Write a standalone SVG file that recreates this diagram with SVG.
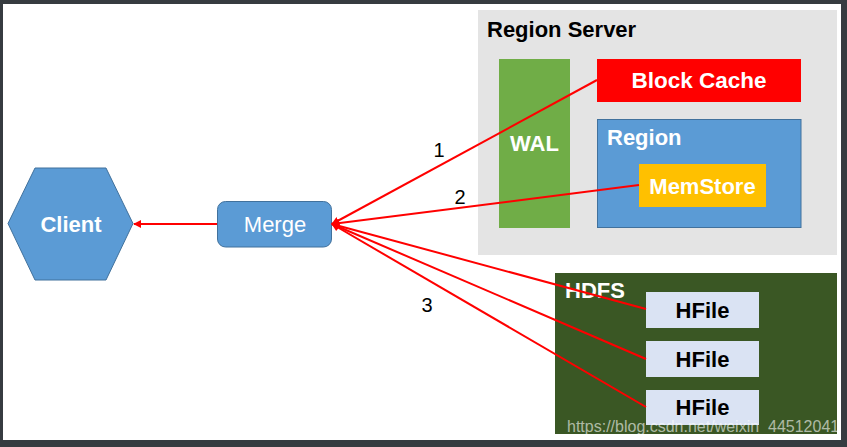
<svg xmlns="http://www.w3.org/2000/svg" width="847" height="447" viewBox="0 0 847 447">
<style>
.b{font-family:"Liberation Sans",Arial,sans-serif;font-weight:bold;}
.r{font-family:"Liberation Sans",Arial,sans-serif;}
.w{fill:#ffffff;}
.red{stroke:#ff0000;stroke-width:2;fill:none;}
</style>
<defs>
<marker id="ah" viewBox="0 0 10 10" refX="9" refY="5" markerWidth="4" markerHeight="4" orient="auto" markerUnits="strokeWidth">
<path d="M0,0 L10,5 L0,10 z" fill="#ff0000"/>
</marker>
</defs>
<rect x="0" y="0" width="847" height="447" fill="#363b40"/>
<rect x="3" y="4" width="838" height="436" fill="#ffffff"/>
<g id="region-server">
<rect x="478" y="10" width="359" height="245" fill="#e4e4e4"/>
<text class="b" x="487" y="37" font-size="22" fill="#000">Region Server</text>
</g>
<g id="wal">
<rect x="499" y="59" width="71" height="169" fill="#70ad47"/>
<text class="b w" x="534.5" y="151" font-size="22" text-anchor="middle">WAL</text>
</g>
<g id="block-cache">
<rect x="597" y="59" width="204" height="43" fill="#ff0000"/>
<text class="b w" x="699" y="88" font-size="22.5" text-anchor="middle">Block Cache</text>
</g>
<g id="region">
<rect x="597.5" y="119.5" width="203.5" height="108" fill="#5b9bd5" stroke="#41719c" stroke-width="1"/>
<text class="b w" x="607" y="145" font-size="22">Region</text>
</g>
<g id="memstore">
<rect x="639" y="164" width="127" height="43" fill="#ffc000"/>
<text class="b w" x="702.5" y="194" font-size="22" text-anchor="middle">MemStore</text>
</g>
<g id="hdfs">
<rect x="555" y="273" width="282" height="161" fill="#3a5724"/>
<text class="b w" x="565" y="298" font-size="22">HDFS</text>
</g>
<g id="hfile1">
<rect x="646" y="292" width="113" height="36" fill="#dae3f3"/>
<text class="b" x="702.5" y="318" font-size="22" text-anchor="middle" fill="#000">HFile</text>
</g>
<g id="hfile2">
<rect x="646" y="341" width="113" height="36" fill="#dae3f3"/>
<text class="b" x="702.5" y="367" font-size="22" text-anchor="middle" fill="#000">HFile</text>
</g>
<g id="hfile3">
<rect x="646" y="390" width="113" height="35" fill="#dae3f3"/>
<text class="b" x="702.5" y="415" font-size="22" text-anchor="middle" fill="#000">HFile</text>
</g>
<g id="client">
<polygon points="8,223.5 35,168 106,168 133,223.5 106,280 35,280" fill="#5b9bd5" stroke="#41719c" stroke-width="1"/>
<text class="b w" x="71" y="232" font-size="22" text-anchor="middle">Client</text>
</g>
<g id="merge">
<rect x="217.5" y="201.5" width="114" height="45.5" rx="8" fill="#5b9bd5" stroke="#41719c" stroke-width="1"/>
<text class="r w" x="275" y="232" font-size="22" text-anchor="middle">Merge</text>
</g>
<g id="connectors">
<line class="red" x1="217" y1="224" x2="134" y2="224" marker-end="url(#ah)"/>
<line class="red" x1="597" y1="80" x2="332" y2="224" marker-end="url(#ah)"/>
<line class="red" x1="639" y1="185" x2="332" y2="224" marker-end="url(#ah)"/>
<line class="red" x1="646" y1="309" x2="332" y2="224" marker-end="url(#ah)"/>
<line class="red" x1="646" y1="359" x2="332" y2="224" marker-end="url(#ah)"/>
<line class="red" x1="646" y1="407" x2="332" y2="224" marker-end="url(#ah)"/>
<text class="r" x="439" y="157" font-size="20" text-anchor="middle" fill="#000">1</text>
<text class="r" x="460" y="204" font-size="20" text-anchor="middle" fill="#000">2</text>
<text class="r" x="427" y="312" font-size="20" text-anchor="middle" fill="#000">3</text>
</g>
<text class="r" x="567" y="432" font-size="16" fill="#ffffff" fill-opacity="0.6">https://blog.csdn.net/weixin_44512041</text>
</svg>
